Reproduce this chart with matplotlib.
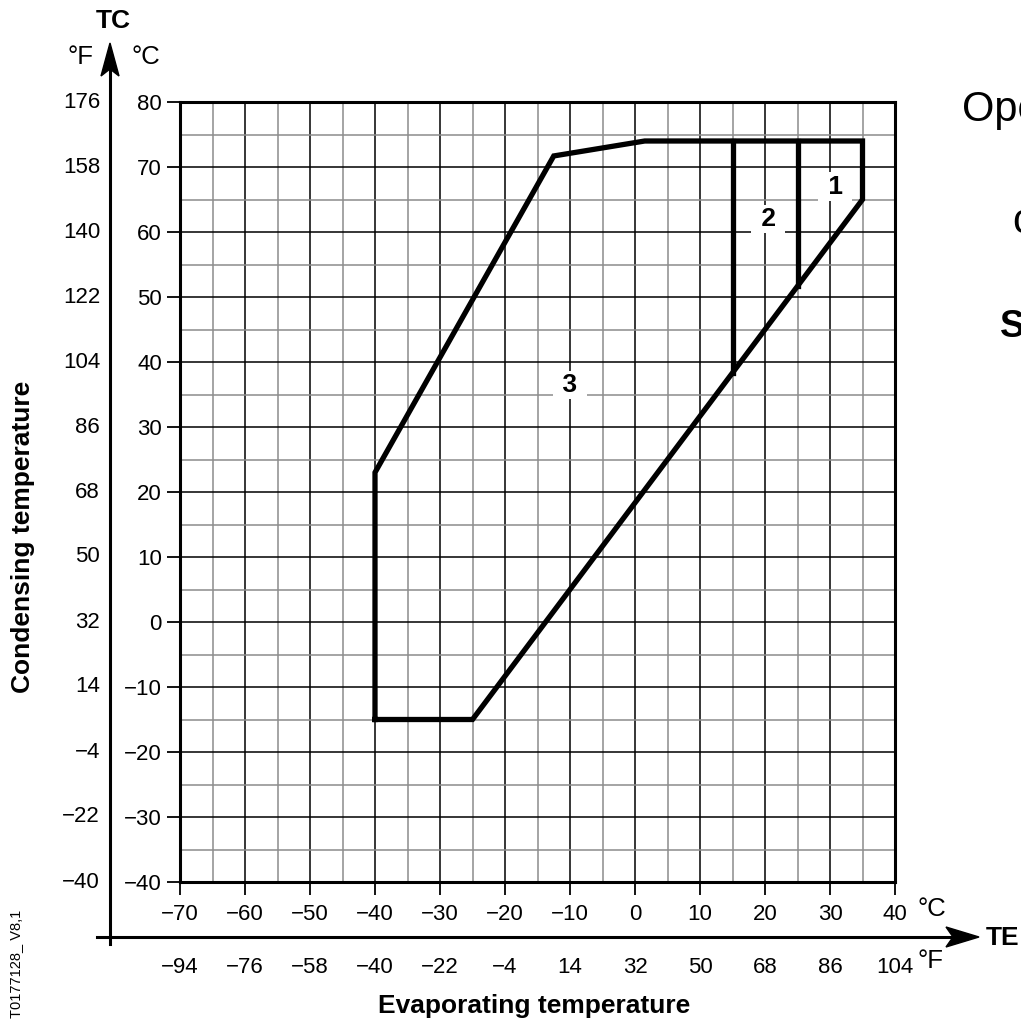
import numpy as np
import matplotlib.pyplot as plt
from matplotlib.patches import Polygon
from matplotlib.transforms import blended_transform_factory

plt.rcParams['font.family'] = ['Liberation Sans', 'DejaVu Sans']

# envelope outline, TE / TC in degC
env_te = [-40, -25, 35, 35, 1.5, -12.5, -40, -40]
env_tc = [-15, -15, 65, 74, 74, 71.7, 23, -15]
# inner zone borders
zone2_te = [15, 15]
zone2_tc = [74, 38.3]
zone1_te = [25, 25]
zone1_tc = [74, 51.7]
zone_labels = ['1', '2', '3']
zone_x = [30.8, 20.5, -10]
zone_y = [67, 62, 36.5]

# tick labels
te_c = [-70, -60, -50, -40, -30, -20, -10, 0, 10, 20, 30, 40]
te_f = [-94, -76, -58, -40, -22, -4, 14, 32, 50, 68, 86, 104]
tc_c = [-40, -30, -20, -10, 0, 10, 20, 30, 40, 50, 60, 70, 80]
tc_f = [-40, -22, -4, 14, 32, 50, 68, 86, 104, 122, 140, 158, 176]

W = 1021.0
fig = plt.figure(figsize=(10.21, 10.21), dpi=100)

# overlay in pixel coords for the outer arrows / labels
ov = fig.add_axes([0, 0, 1, 1])
ov.set_xlim(0, W)
ov.set_ylim(W, 0)
ov.axis('off')

ax = fig.add_axes([180 / W, 1 - 882 / W, 715 / W, 780 / W])
ax.set_xlim(-70, 40)
ax.set_ylim(-40, 80)
ax.set_xticks(te_c)
ax.set_yticks(tc_c)
ax.set_xticks([(a + b) / 2 for a, b in zip(te_c[:-1], te_c[1:])], minor=True)
ax.set_yticks([(a + b) / 2 for a, b in zip(tc_c[:-1], tc_c[1:])], minor=True)
ax.set_xticklabels([str(v).replace('-', '\u2212') for v in te_c])
ax.set_yticklabels([str(v).replace('-', '\u2212') for v in tc_c])
ax.grid(which='major', color='black', lw=1.1, zorder=0)
ax.grid(which='minor', color='#8c8c8c', lw=1.1, zorder=0)
ax.set_axisbelow(True)
ax.tick_params(which='major', length=9.5, width=1.3, labelsize=16, color='black')
ax.tick_params(axis='x', pad=6)
ax.tick_params(axis='y', pad=3.5)
ax.tick_params(which='minor', length=0)
for s in ax.spines.values():
    s.set_linewidth(2.2)

ax.plot(env_te, env_tc, color='black', lw=3.8, solid_joinstyle='miter', zorder=3)
ax.plot(zone2_te, zone2_tc, color='black', lw=3.8, zorder=3)
ax.plot(zone1_te, zone1_tc, color='black', lw=3.8, zorder=3)
for lab, x, y in zip(zone_labels, zone_x, zone_y):
    ax.text(x, y, ' ' + lab + ' ', fontsize=19, fontweight='bold', ha='center', va='center', zorder=4,
            bbox=dict(facecolor='white', edgecolor='none', pad=1.5))

# fahrenheit labels
ty = blended_transform_factory(ov.transData, ax.transData)
for c, f in zip(tc_c, tc_f):
    ov.text(100, c, str(f).replace('-', '\u2212'), transform=ty, ha='right', va='center', fontsize=16)
tx = blended_transform_factory(ax.transData, ov.transData)
for c, f in zip(te_c, te_f):
    ov.text(c, 967, str(f).replace('-', '\u2212'), transform=tx, ha='center', va='center', fontsize=16)

# outer axes with arrows
ov.plot([110, 110], [944, 70], color='black', lw=2.2)
ov.plot([97, 952], [937, 937], color='black', lw=2.2)
ov.add_patch(Polygon([[110, 43], [101, 76], [110, 69], [119, 76]], closed=True, color='black'))
ov.add_patch(Polygon([[979, 937], [946, 927], [953, 937], [946, 947]], closed=True, color='black'))

ov.text(113, 21, 'TC', fontsize=19, fontweight='bold', ha='center', va='center')
ov.text(80, 57, '°F', fontsize=18.5, ha='center', va='center')
ov.text(146, 57, '°C', fontsize=18.5, ha='center', va='center')
ov.text(917, 909, '°C', fontsize=18.5, ha='left', va='center')
ov.text(917, 961, '°F', fontsize=18.5, ha='left', va='center')
ov.text(986, 938, 'TE', fontsize=19, fontweight='bold', ha='left', va='center')
ov.text(23, 537, 'Condensing temperature', fontsize=19, fontweight='bold', rotation=90,
        ha='center', va='center')
ov.text(534, 1006, 'Evaporating temperature', fontsize=19, fontweight='bold', ha='center', va='center')
ov.text(16, 964, 'T0177128_ V8,1', fontsize=10.5, rotation=90, ha='center', va='center')

ov.text(962, 110, 'Operating envelope', fontsize=30, ha='left', va='center', clip_on=False)
ov.text(1012, 222, 'compressor', fontsize=30, ha='left', va='center', clip_on=False)
ov.text(1000, 327, 'SH', fontsize=27, fontweight='bold', ha='left', va='center', clip_on=False)

fig.savefig('out.png', dpi=100, facecolor='white')
